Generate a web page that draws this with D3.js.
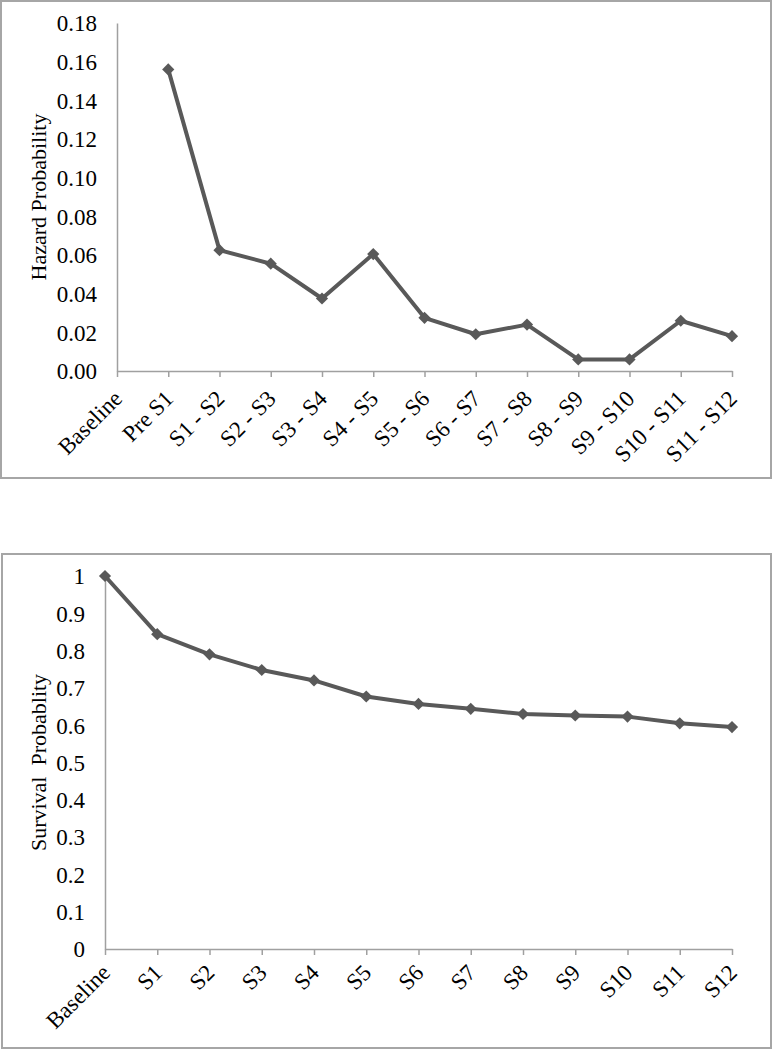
<!DOCTYPE html>
<html>
<head>
<meta charset="utf-8">
<script src="https://cdn.jsdelivr.net/npm/d3@7"></script>
<style>
  body { margin: 0; background: #fff; }
  svg text { font-family: "Liberation Serif", "Times New Roman", serif; fill: #000; }
</style>
</head>
<body>
<svg id="chart" width="772" height="1050"></svg>
<script>
// hazard panel
var hazardCats = ['Baseline', 'Pre S1', 'S1 - S2', 'S2 - S3', 'S3 - S4', 'S4 - S5', 'S5 - S6',
    'S6 - S7', 'S7 - S8', 'S8 - S9', 'S9 - S10', 'S10 - S11', 'S11 - S12']
var hazardValues = [null, 0.156, 0.0625, 0.0555, 0.0375, 0.0605, 0.0275, 0.019, 0.024, 0.006, 0.006, 0.026, 0.018]
var hazardTicks = [0, 0.02, 0.04, 0.06, 0.08, 0.10, 0.12, 0.14, 0.16, 0.18]

// survival panel
var survivalCats = ['Baseline', 'S1', 'S2', 'S3', 'S4', 'S5', 'S6', 'S7', 'S8', 'S9', 'S10', 'S11', 'S12']
var survivalValues = [1, 0.844, 0.790, 0.748, 0.720, 0.677, 0.657, 0.644, 0.630, 0.626, 0.623, 0.605, 0.595]
var survivalTicks = [0, 0.1, 0.2, 0.3, 0.4, 0.5, 0.6, 0.7, 0.8, 0.9, 1]

var svg = d3.select('#chart')
var lineColor = '#595959'
var axisColor = '#a0a0a0'

function drawPanel(cfg) {
    var g = svg.append('g')

    // outer frame
    g.append('rect')
        .attr('x', cfg.frame[0]).attr('y', cfg.frame[1])
        .attr('width', cfg.frame[2] - cfg.frame[0])
        .attr('height', cfg.frame[3] - cfg.frame[1])
        .attr('fill', 'none')
        .attr('stroke', '#a6a6a6')
        .attr('stroke-width', 2)

    var x = d3.scalePoint().domain(cfg.cats).range([cfg.left, cfg.right])
    var y = d3.scaleLinear().domain([0, cfg.max]).range([cfg.bottom, cfg.top])

    // y axis, no ticks
    var yAxis = g.append('g')
        .attr('transform', 'translate(' + cfg.left + ',0)')
        .call(d3.axisLeft(y).tickValues(cfg.ticks).tickFormat(cfg.fmt).tickSize(0).tickPadding(20))
    yAxis.select('.domain').attr('stroke', axisColor).attr('stroke-width', 1.5)
    yAxis.selectAll('text').attr('font-size', 23).attr('dy', '0.34em')

    // x axis
    var xAxis = g.append('g')
        .attr('transform', 'translate(0,' + cfg.bottom + ')')
        .call(d3.axisBottom(x).tickSizeInner(6).tickSizeOuter(0))
    xAxis.select('.domain').attr('stroke', axisColor).attr('stroke-width', 1.5)
    xAxis.selectAll('line').attr('stroke', axisColor).attr('stroke-width', 1.5)
    xAxis.selectAll('text')
        .attr('font-size', 23)
        .attr('text-anchor', 'end')
        .attr('y', 0)
        .attr('dy', 0)
        .attr('transform', 'translate(6,' + cfg.labelDy + ') rotate(-45)')

    // axis title
    g.append('text')
        .attr('transform', 'translate(' + cfg.titleX + ',' + ((cfg.top + cfg.bottom) / 2) + ') rotate(-90)')
        .attr('text-anchor', 'middle')
        .attr('font-size', 22)
        .attr('xml:space', 'preserve')
        .style('white-space', 'pre')
        .text(cfg.title)

    var pts = cfg.cats.map(function (c, i) { return { cat: c, v: cfg.values[i] } })
        .filter(function (d) { return d.v != null })

    var line = d3.line()
        .x(function (d) { return x(d.cat) })
        .y(function (d) { return y(d.v) })

    g.append('path')
        .datum(pts)
        .attr('fill', 'none')
        .attr('stroke', lineColor)
        .attr('stroke-width', 4)
        .attr('stroke-linejoin', 'round')
        .attr('d', line)

    g.selectAll('.marker')
        .data(pts)
        .enter()
        .append('path')
        .attr('class', 'marker')
        .attr('d', d3.symbol().type(d3.symbolDiamond2).size(95))
        .attr('fill', lineColor)
        .attr('transform', function (d) { return 'translate(' + x(d.cat) + ',' + y(d.v) + ')' })
}

drawPanel({
    frame: [1, 1, 771, 478],
    cats: hazardCats,
    values: hazardValues,
    ticks: hazardTicks,
    fmt: d3.format('.2f'),
    max: 0.18,
    left: 117, right: 732, top: 23, bottom: 371,
    labelDy: 29,
    titleX: 46,
    title: 'Hazard Probability'
})

drawPanel({
    frame: [2, 554, 771, 1048],
    cats: survivalCats,
    values: survivalValues,
    ticks: survivalTicks,
    fmt: d3.format('~g'),
    max: 1,
    left: 105, right: 732, top: 576, bottom: 949,
    labelDy: 25,
    titleX: 46,
    title: 'Survival  Probablity'
})
</script>
</body>
</html>
